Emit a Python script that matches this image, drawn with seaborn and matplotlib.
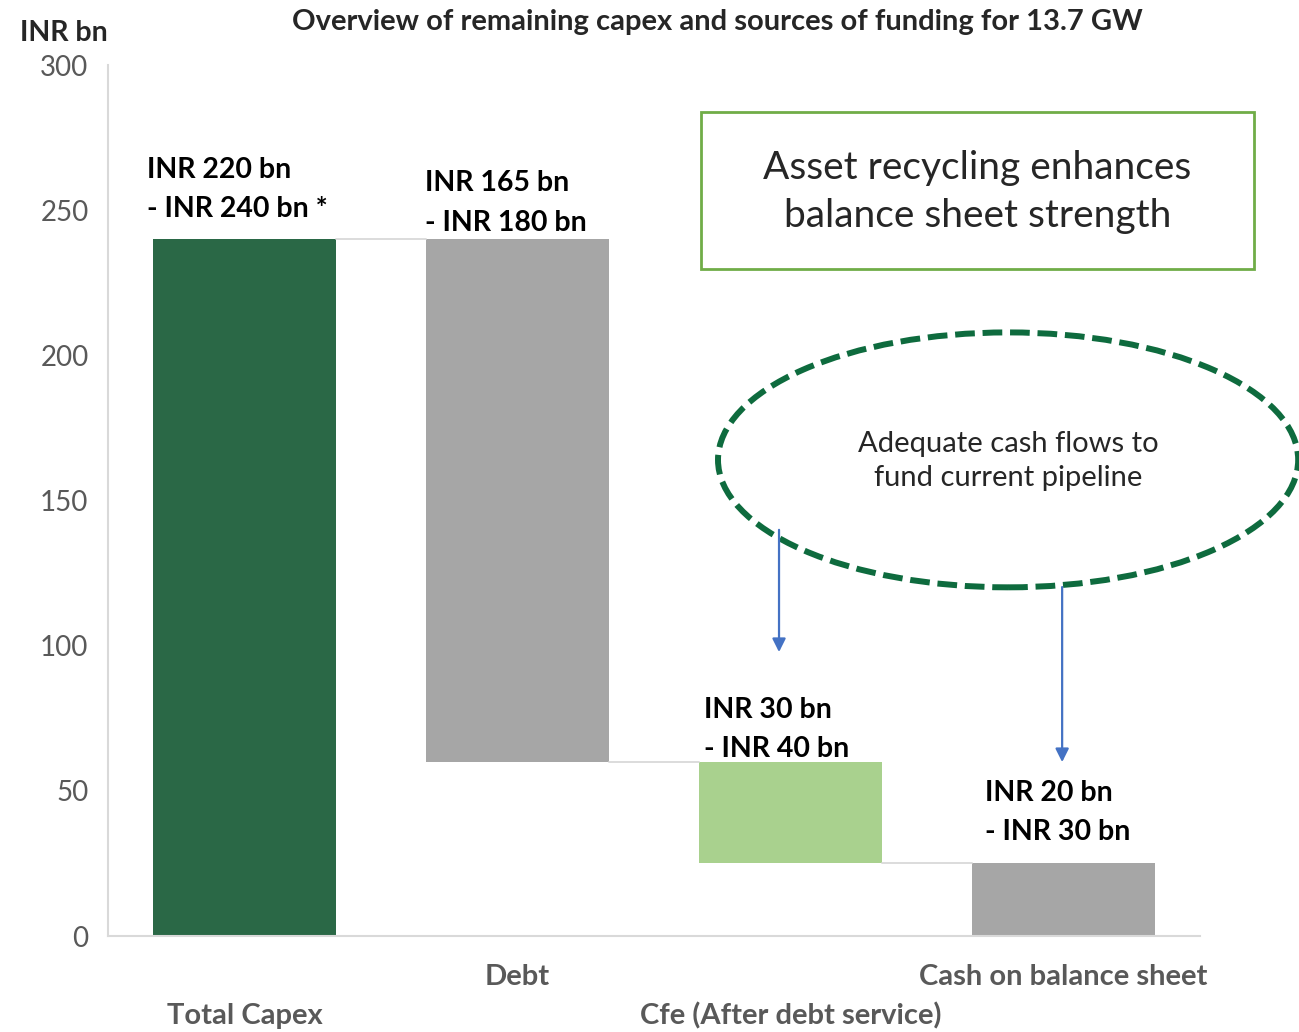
import matplotlib
matplotlib.use("Agg")
import matplotlib.pyplot as plt
import matplotlib.patches as mpatches
import pandas as pd
import seaborn as sns

# Data (INR bn) - floating waterfall bars
categories = ["Total Capex", "Debt", "Cfe (After debt service)", "Cash on balance sheet"]
bar_top = [240, 240, 60, 25]
bar_bottom = [0, 60, 25, 0]
bar_labels = ["INR 220 bn\n- INR 240 bn *", "INR 165 bn\n- INR 180 bn",
              "INR 30 bn\n- INR 40 bn", "INR 20 bn\n- INR 30 bn"]
bar_colors = ["#2a6846", "#a6a6a6", "#a9d18e", "#a6a6a6"]
yticks = [0, 50, 100, 150, 200, 250, 300]

df = pd.DataFrame({"category": categories,
                   "height": [t - b for t, b in zip(bar_top, bar_bottom)],
                   "bottom": bar_bottom})

sns.set_style("white")
plt.rcParams["font.family"] = ["Lato", "DejaVu Sans"]

fig = plt.figure(figsize=(12.99, 10.32), dpi=100)
ax = fig.add_axes([0.0831, 0.093, 0.8407, 0.844])

sns.barplot(data=df, x="category", y="height", bottom=df["bottom"].values,
            color="#a6a6a6", saturation=1, width=0.667, errorbar=None, ax=ax)
for patch, c in zip(ax.patches, bar_colors):
    patch.set_facecolor(c)
    patch.set_edgecolor("none")

# connector lines between bars
half = 0.667 / 2
for i in range(len(categories) - 1):
    level = bar_top[i + 1] if bar_top[i + 1] == bar_top[i] else bar_bottom[i]
    ax.plot([i + half, i + 1 - half], [level, level], color="#d9d9d9", lw=1.3, zorder=1)

ax.set_xlim(-0.5, 3.5)
ax.set_ylim(0, 300)
ax.set_yticks(yticks)
ax.tick_params(axis="y", labelsize=20, labelcolor="#595959", length=0, pad=14)
ax.tick_params(axis="x", labelsize=21, labelcolor="#595959", length=0)
for lbl in ax.get_xticklabels():
    lbl.set_fontweight("bold")
ticks = ax.xaxis.get_major_ticks()
for i, t in enumerate(ticks):
    t.set_pad(20 if i % 2 == 1 else 48)
ax.set_xlabel("")
ax.set_ylabel("")
for s in ["top", "right"]:
    ax.spines[s].set_visible(False)
for s in ["left", "bottom"]:
    ax.spines[s].set_color("#d9d9d9")
    ax.spines[s].set_linewidth(1.5)

# value range labels above bars
label_pos = [(-0.357, 247.5), (0.661, 243), (1.683, 61.5), (2.712, 33)]
for (x, y), txt in zip(label_pos, bar_labels):
    ax.text(x, y, txt, ha="left", va="baseline", fontsize=20.5, fontweight="bold",
            color="black", linespacing=1.62)

fig.text(0.552, 0.979, "Overview of remaining capex and sources of funding for 13.7 GW",
         ha="center", va="center", fontsize=21, fontweight="bold")
fig.text(0.049, 0.968, "INR bn", ha="center", va="center", fontsize=20.5, fontweight="bold")

# green callout box
box = mpatches.Rectangle((1.672, 229.8), 2.026, 54, fill=False, edgecolor="#70ad47",
                         lw=2, clip_on=False)
ax.add_patch(box)
ax.text(2.685, 256.3, "Asset recycling enhances\nbalance sheet strength", ha="center",
        va="center", fontsize=28, linespacing=1.42)

# dashed ellipse
ell = mpatches.Ellipse((2.797, 164), 2.125, 87.8, fill=False, edgecolor="#0e6b3e",
                       lw=4.3, linestyle=(0, (3.3, 1.3)), clip_on=False)
ax.add_patch(ell)
ax.text(2.797, 163.6, "Adequate cash flows to\nfund current pipeline", ha="center",
        va="center", fontsize=21, linespacing=1.42)

# arrows
arrow_kw = dict(arrowstyle="-|>", color="#4472c4", lw=1.6, mutation_scale=20,
                shrinkA=0, shrinkB=0)
ax.annotate("", xy=(1.958, 97.8), xytext=(1.958, 139.9), arrowprops=arrow_kw)
ax.annotate("", xy=(2.995, 59.9), xytext=(2.995, 120.2), arrowprops=arrow_kw)

fig.savefig("out.png", dpi=100)
